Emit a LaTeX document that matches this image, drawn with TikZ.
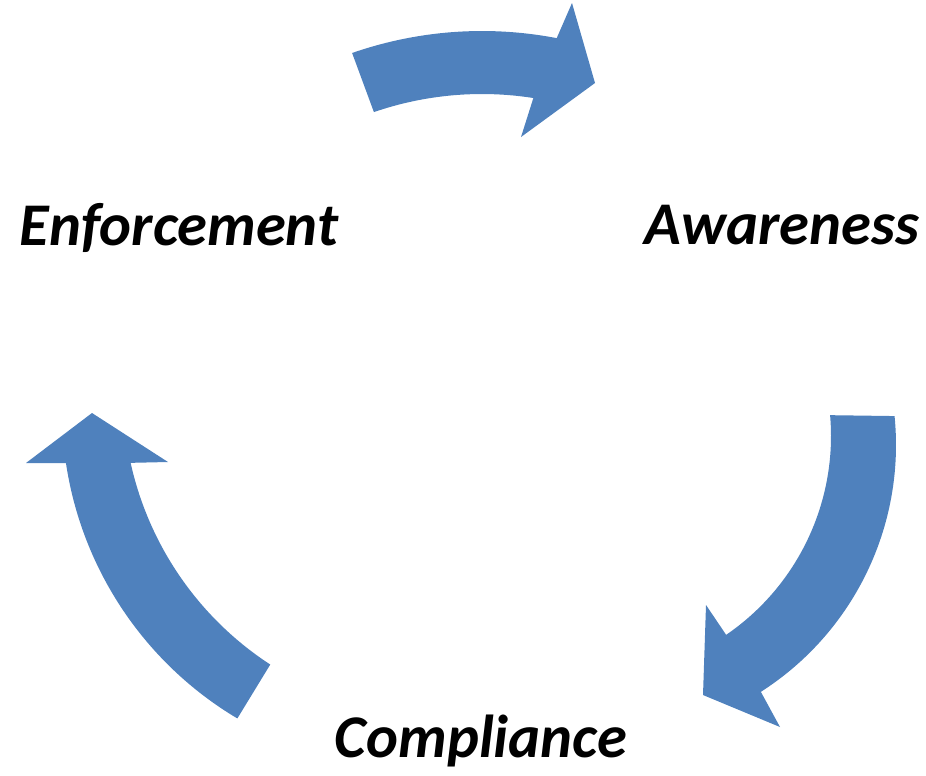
\documentclass[tikz,border=0pt]{standalone}
\usepackage{fontspec}
\setmainfont{Carlito}
\definecolor{cycleblue}{HTML}{4F81BD}
\tikzset{
  cyclearrow/.style={fill=cycleblue},
  stagename/.style={font=\fontsize{34.5}{38}\selectfont\bfseries\itshape, anchor=base, inner sep=0pt}
}
\begin{document}
\begin{tikzpicture}[x=0.02cm, y=-0.02cm]
    \useasboundingbox (0,0) rectangle (926,775);

    % Centres of the arcs
    \coordinate (topc) at (482,426);
    \coordinate (rightout) at (603,445);
    \coordinate (rightin) at (590,436);
    \coordinate (leftout) at (421,410);
    \coordinate (leftin) at (447,393);

    % Enforcement -> Awareness
    \fill[cyclearrow] ([shift={(-109.2:395)}]topc) arc[start angle=-109.2, end angle=-79.1, radius=395]
      -- (572,3) -- (595,83) -- (521,137)
      -- ([shift={(-81.1:332)}]topc) arc[start angle=-81.1, end angle=-109.0, radius=332] -- cycle;

    % Awareness -> Compliance
    \fill[cyclearrow] ([shift={(-5.67:293)}]rightout) arc[start angle=-5.67, end angle=57.4, radius=293]
      -- (780,727) -- (703,695) -- (706,605)
      -- ([shift={(55.6:241)}]rightin) arc[start angle=55.6, end angle=-4.96, radius=241] -- cycle;

    % Compliance -> Enforcement
    \fill[cyclearrow] ([shift={(120.77:359)}]leftout) arc[start angle=120.77, end angle=171.5, radius=359]
      -- (26,463) -- (92,413) -- (168,462)
      -- ([shift={(167.55:324)}]leftin) arc[start angle=167.55, end angle=123.06, radius=324] -- cycle;

    % Stage names
    \node[stagename] (enforcement) at (179,245) {Enforcement};
    \node[stagename] (awareness) at (782,244) {Awareness};
    \node[stagename] (compliance) at (481,757) {Compliance};
\end{tikzpicture}
\end{document}
